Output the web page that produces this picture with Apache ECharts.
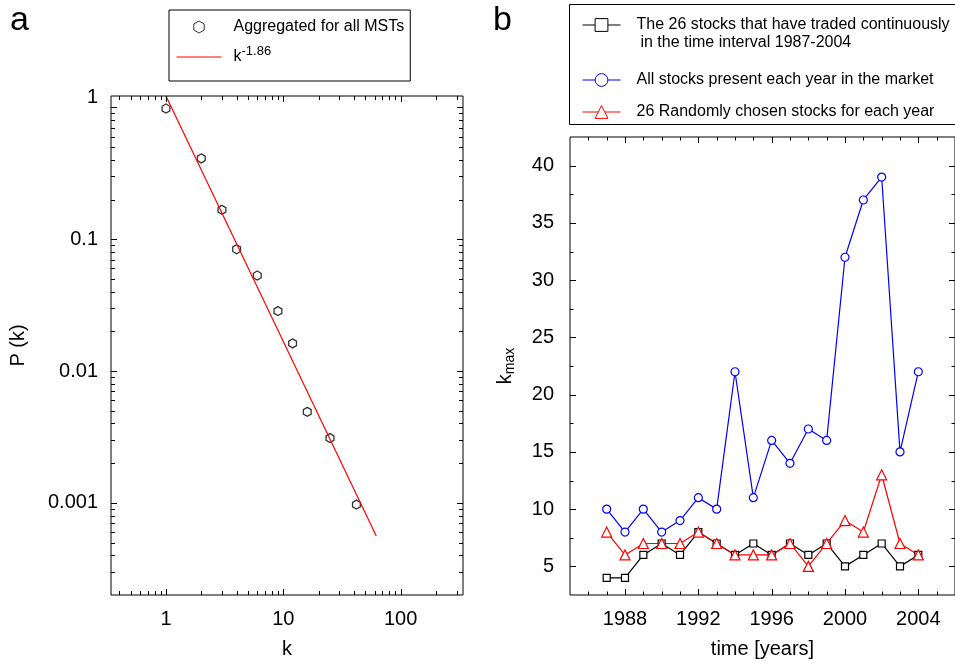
<!DOCTYPE html>
<html>
<head>
<meta charset="utf-8">
<script src="https://cdn.jsdelivr.net/npm/echarts@6/dist/echarts.min.js"></script>
<style>
  html, body { margin: 0; padding: 0; background: #fff; }
  #chart { width: 955px; height: 665px; }
</style>
</head>
<body>
<div id="chart"></div>
<script>
const FONT = '"Liberation Sans", Arial, Helvetica, sans-serif'

// ---- panel a: P(k) aggregated for all MSTs ----
const kValues = [1, 2, 3, 4, 6, 9, 12, 16, 25, 42]
const pValues = [0.98, 0.41, 0.167, 0.084, 0.053, 0.0285, 0.0162, 0.0049, 0.0031, 0.00097]
// red power-law line, end points
const fitK = [1, 62]
const fitP = [1.22, 0.00056]
const kTickValues = [1, 10, 100]
const kTickLabels = ['1', '10', '100']
const pTickValues = [0.001, 0.01, 0.1, 1]
const pTickLabels = ['0.001', '0.01', '0.1', '1']

// ---- panel b: k_max per year ----
const years = [1987, 1988, 1989, 1990, 1991, 1992, 1993, 1994, 1995, 1996, 1997, 1998, 1999, 2000, 2001, 2002, 2003, 2004]
const kmaxFixed26 = [4, 4, 6, 7, 6, 8, 7, 6, 7, 6, 7, 6, 7, 5, 6, 7, 5, 6]
const kmaxAll = [10, 8, 10, 8, 9, 11, 10, 22, 11, 16, 14, 17, 16, 32, 37, 39, 15, 22]
const kmaxRandom26 = [8, 6, 7, 7, 7, 8, 7, 6, 6, 6, 7, 5, 7, 9, 8, 13, 7, 6]
const yearTickValues = [1988, 1992, 1996, 2000, 2004]
const kmaxTickValues = [5, 10, 15, 20, 25, 30, 35, 40]

const SCATTER_NAME = 'Aggregated for all MSTs'
const FIT_NAME = 'k^-1.86'
const NAME_FIXED = 'The 26 stocks that have traded continuously'
const NAME_FIXED_2 = ' in the time interval 1987-2004'
const NAME_ALL = 'All stocks present each year in the market'
const NAME_RANDOM = '26 Randomly chosen stocks for each year'

// axis ranges
const K_MIN = 0.34, K_MAX = 340
const P_MIN = 0.0002, P_MAX = 1.22
const T_MIN = 1985, T_MAX = 2006
const KM_MIN = 2.5, KM_MAX = 42.5

const HEX = 'path://M0,-1 L0.866,-0.5 L0.866,0.5 L0,1 L-0.866,0.5 L-0.866,-0.5 Z'

function logMinorTicks(lo, hi) {
  const out = []
  for (let e = Math.floor(Math.log10(lo)); e <= Math.ceil(Math.log10(hi)); e++) {
    for (let m = 2; m <= 9; m++) {
      const v = m * Math.pow(10, e)
      if (v > lo && v < hi) out.push(v)
    }
  }
  return out
}

function pickLabel(v, values, labels) {
  for (let i = 0; i < values.length; i++) {
    if (Math.abs(v - values[i]) <= 1e-6 * Math.abs(values[i])) return labels[i]
  }
  return ''
}

// inward ticks on both edges of a panel, placed through the axis scales
function tickSeries(gridIdx, dir, values, edgeLo, edgeHi, len) {
  const st = { stroke: '#000', lineWidth: 1 }
  return {
    type: 'custom',
    xAxisIndex: gridIdx,
    yAxisIndex: gridIdx,
    silent: true,
    z: 10,
    data: values.map(v => dir === 'x' ? [v, edgeLo] : [edgeLo, v]),
    renderItem: (params, api) => {
      const v = api.value(dir === 'x' ? 0 : 1)
      const a = api.coord(dir === 'x' ? [v, edgeLo] : [edgeLo, v])
      const b = api.coord(dir === 'x' ? [v, edgeHi] : [edgeHi, v])
      if (dir === 'x') {
        const x = Math.round(a[0]) + 0.5
        return { type: 'group', children: [
          { type: 'line', shape: { x1: x, y1: a[1], x2: x, y2: a[1] - len }, style: st },
          { type: 'line', shape: { x1: x, y1: b[1], x2: x, y2: b[1] + len }, style: st }
        ] }
      }
      const y = Math.round(a[1]) + 0.5
      return { type: 'group', children: [
        { type: 'line', shape: { x1: a[0], y1: y, x2: a[0] + len, y2: y }, style: st },
        { type: 'line', shape: { x1: b[0], y1: y, x2: b[0] - len, y2: y }, style: st }
      ] }
    }
  }
}

const yearMinor = []
for (let y = T_MIN + 1; y < T_MAX; y++) if (yearTickValues.indexOf(y) < 0) yearMinor.push(y)
const kmaxMinor = []
for (let v = KM_MIN + 5; v < KM_MAX; v += 5) kmaxMinor.push(v)

const labelStyle = { fontFamily: FONT, fontSize: 20, color: '#000' }
const nameStyle = { fontFamily: FONT, fontSize: 20, color: '#000' }
const legendText = { fontFamily: FONT, fontSize: 16, color: '#000', lineHeight: 20, padding: [0, 0, 0, 11] }

const chart = echarts.init(document.getElementById('chart'))

chart.setOption({
  animation: false,
  backgroundColor: '#fff',
  grid: [
    { left: 111, top: 96, right: 492, bottom: 70, show: true, borderColor: '#000', borderWidth: 1, outerBoundsMode: 'none' },
    { left: 570, top: 137, right: 0, bottom: 70, show: true, borderColor: '#000', borderWidth: 1, outerBoundsMode: 'none' }
  ],
  xAxis: [
    {
      gridIndex: 0, type: 'log', logBase: 10, min: K_MIN, max: K_MAX,
      axisLine: { show: false }, axisTick: { show: false }, splitLine: { show: false },
      axisLabel: { ...labelStyle, margin: 14, formatter: v => pickLabel(v, kTickValues, kTickLabels) },
      name: 'k', nameLocation: 'middle', nameGap: 44, nameTextStyle: nameStyle
    },
    {
      gridIndex: 1, type: 'value', min: T_MIN, max: T_MAX, interval: 1,
      axisLine: { show: false }, axisTick: { show: false }, splitLine: { show: false },
      axisLabel: { ...labelStyle, margin: 14, formatter: v => yearTickValues.indexOf(v) >= 0 ? String(v) : '' },
      name: 'time [years]', nameLocation: 'middle', nameGap: 44, nameTextStyle: nameStyle
    }
  ],
  yAxis: [
    {
      gridIndex: 0, type: 'log', logBase: 10, min: P_MIN, max: P_MAX,
      axisLine: { show: false }, axisTick: { show: false }, splitLine: { show: false },
      axisLabel: {
        ...labelStyle, margin: 13,
        formatter: v => {
          const s = pickLabel(v, pTickValues, pTickLabels)
          return s === '1' ? '{lift|1}' : s
        },
        rich: { lift: { ...labelStyle, padding: [0, 0, 20, 0] } }
      },
      name: 'P (k)', nameLocation: 'middle', nameGap: 83, nameTextStyle: nameStyle
    },
    {
      gridIndex: 1, type: 'value', min: KM_MIN, max: KM_MAX, interval: 2.5,
      axisLine: { show: false }, axisTick: { show: false }, splitLine: { show: false },
      axisLabel: { ...labelStyle, margin: 16, formatter: v => kmaxTickValues.indexOf(v) >= 0 ? String(v) : '' },
      name: '{k|k}{s|max}', nameLocation: 'middle', nameGap: 53,
      nameTextStyle: {
        ...nameStyle,
        rich: {
          k: { fontFamily: FONT, fontSize: 20, color: '#000', lineHeight: 24 },
          s: { fontFamily: FONT, fontSize: 14, color: '#000', lineHeight: 12, verticalAlign: 'bottom' }
        }
      }
    }
  ],
  legend: [
    {
      left: 169, top: 10, orient: 'vertical', selectedMode: false,
      padding: [7, 6, 12, 7], itemGap: 8, itemWidth: 45, itemHeight: 12,
      borderColor: '#000', borderWidth: 1,
      itemStyle: { borderWidth: 1 }, lineStyle: { width: 1 },
      textStyle: {
        fontFamily: FONT, fontSize: 16, color: '#000', lineHeight: 20, padding: [0, 0, 0, 7],
        rich: {
          b: { fontFamily: FONT, fontSize: 16, color: '#000', lineHeight: 24 },
          sup: { fontFamily: FONT, fontSize: 13, color: '#000', lineHeight: 12, verticalAlign: 'top' }
        }
      },
      formatter: name => name === FIT_NAME ? '{b|k}{sup|-1.86}' : name,
      data: [SCATTER_NAME, FIT_NAME]
    },
    {
      left: 582, top: 15, orient: 'vertical', selectedMode: false, padding: 0,
      itemWidth: 38, itemHeight: 16,
      itemStyle: { borderWidth: 1 }, lineStyle: { width: 1 },
      textStyle: legendText,
      data: [NAME_FIXED]
    },
    {
      left: 582, top: 70, orient: 'vertical', selectedMode: false, padding: 0,
      itemWidth: 38, itemHeight: 16, itemGap: 12,
      itemStyle: { borderWidth: 1 }, lineStyle: { width: 1 },
      textStyle: legendText,
      data: [NAME_ALL, NAME_RANDOM]
    }
  ],
  graphic: [
    { type: 'text', x: 10, y: 21, style: { text: 'a', fontFamily: FONT, fontSize: 34, fill: '#000', verticalAlign: 'middle' } },
    { type: 'text', x: 493, y: 21, style: { text: 'b', fontFamily: FONT, fontSize: 34, fill: '#000', verticalAlign: 'middle' } },
    { type: 'rect', shape: { x: 569.5, y: 4.5, width: 400, height: 120 }, style: { fill: 'none', stroke: '#000', lineWidth: 1 } },
    { type: 'text', x: 636, y: 43, style: { text: NAME_FIXED_2, fontFamily: FONT, fontSize: 16, fill: '#000', verticalAlign: 'middle' } }
  ],
  series: [
    {
      name: FIT_NAME, type: 'line', xAxisIndex: 0, yAxisIndex: 0,
      data: fitK.map((k, i) => [k, fitP[i]]),
      showSymbol: false, silent: true,
      lineStyle: { color: '#ff0000', width: 1.2 },
      itemStyle: { color: '#ff0000', opacity: 0 }
    },
    {
      name: SCATTER_NAME, type: 'scatter', xAxisIndex: 0, yAxisIndex: 0,
      data: kValues.map((k, i) => [k, pValues[i]]),
      symbol: HEX, symbolSize: 9, symbolKeepAspect: true,
      itemStyle: { color: 'rgba(255,255,255,0)', borderColor: '#000', borderWidth: 1.3 }
    },
    {
      name: NAME_FIXED, type: 'line', xAxisIndex: 1, yAxisIndex: 1,
      data: years.map((y, i) => [y, kmaxFixed26[i]]),
      symbol: 'rect', symbolSize: 7,
      lineStyle: { color: '#000', width: 1.2 },
      itemStyle: { color: '#fff', borderColor: '#000', borderWidth: 1.2 }
    },
    {
      name: NAME_ALL, type: 'line', xAxisIndex: 1, yAxisIndex: 1,
      data: years.map((y, i) => [y, kmaxAll[i]]),
      symbol: 'circle', symbolSize: 8,
      lineStyle: { color: '#0000ff', width: 1.2 },
      itemStyle: { color: '#fff', borderColor: '#0000ff', borderWidth: 1.2 }
    },
    {
      name: NAME_RANDOM, type: 'line', xAxisIndex: 1, yAxisIndex: 1,
      data: years.map((y, i) => [y, kmaxRandom26[i]]),
      symbol: 'triangle', symbolSize: 10,
      lineStyle: { color: '#ff0000', width: 1.2 },
      itemStyle: { color: '#fff', borderColor: '#ff0000', borderWidth: 1.2 }
    },
    // frame ticks
    tickSeries(0, 'x', kTickValues, P_MIN, P_MAX, 6),
    tickSeries(0, 'x', logMinorTicks(K_MIN, K_MAX), P_MIN, P_MAX, 4),
    tickSeries(0, 'y', pTickValues, K_MIN, K_MAX, 6),
    tickSeries(0, 'y', logMinorTicks(P_MIN, P_MAX), K_MIN, K_MAX, 4),
    tickSeries(1, 'x', yearTickValues, KM_MIN, KM_MAX, 6),
    tickSeries(1, 'x', yearMinor, KM_MIN, KM_MAX, 3.5),
    tickSeries(1, 'y', kmaxTickValues, T_MIN, T_MAX, 6),
    tickSeries(1, 'y', kmaxMinor, T_MIN, T_MAX, 3.5)
  ]
})
</script>
</body>
</html>
